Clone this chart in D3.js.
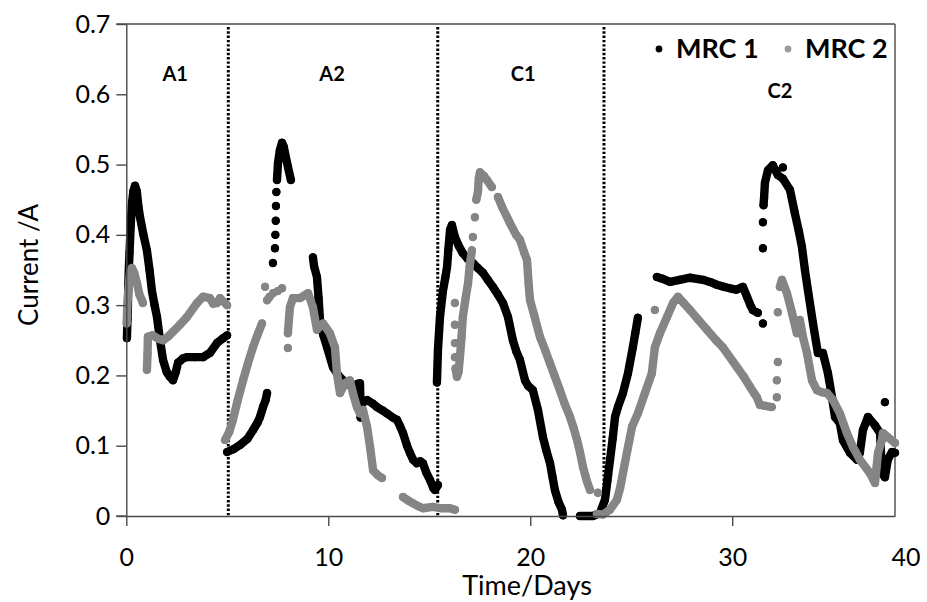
<!DOCTYPE html>
<html>
<head>
<meta charset="utf-8">
<script src="https://cdn.jsdelivr.net/npm/d3@7/dist/d3.min.js"></script>
<style>
  html, body { margin: 0; padding: 0; background: #fff; }
  svg { display: block; font-family: Lato, "Open Sans", sans-serif; }
</style>
</head>
<body>
<svg id="chart" width="927" height="602"></svg>
<script>
// ---------------- DATA ----------------
const seriesNames = ["MRC 1", "MRC 2"];
const xTicks = [0, 10, 20, 30, 40];
const yTicks = [0, 0.1, 0.2, 0.3, 0.4, 0.5, 0.6, 0.7];
const phaseBoundaries = [5.05, 15.42, 23.65];
const phaseLabels = ["A1", "A2", "C1", "C2"];
const phaseLabelDays = [2.42, 10.19, 19.65, 32.36];
const phaseLabelValues = [0.63, 0.63, 0.63, 0.606];

// MRC 1 (black): [day, current A]; null separates non-joined runs / single dots
const mrc1 = [
  [0.03,0.253],[0.06,0.28],[0.08,0.30],[0.10,0.33],[0.13,0.355],[0.16,0.375],[0.19,0.395],[0.23,0.42],[0.28,0.445],[0.35,0.462],[0.43,0.47],[0.52,0.462],[0.60,0.44],[0.68,0.425],[0.85,0.40],[1.02,0.378],[1.15,0.35],[1.27,0.32],[1.40,0.30],[1.52,0.283],[1.67,0.25],[1.82,0.222],[2.00,0.205],[2.16,0.198],[2.31,0.193],[2.45,0.205],[2.56,0.218],[2.80,0.224],[3.00,0.226],[3.40,0.226],[3.80,0.226],[4.14,0.232],[4.49,0.246],[4.79,0.253],[4.99,0.257], null,
  [4.99,0.091],[5.30,0.095],[5.63,0.101],[6.00,0.11],[6.27,0.122],[6.50,0.133],[6.62,0.141],[6.77,0.155],[6.90,0.165],[6.97,0.175], null,
  [7.26,0.36], null, [7.36,0.381], null, [7.38,0.40], null, [7.40,0.42], null, [7.41,0.441], null, [7.43,0.461], null,
  [7.46,0.478],[7.51,0.502],[7.60,0.52],[7.71,0.531],[7.80,0.525],[7.86,0.516],[8.00,0.497],[8.15,0.478], null,
  [9.24,0.368],[9.30,0.355],[9.44,0.34],[9.52,0.31],[9.59,0.279],[9.75,0.258],[9.94,0.24],[10.23,0.212],[10.50,0.20],[10.73,0.193],[11.00,0.187],[11.22,0.184],[11.45,0.188],[11.57,0.189],[11.59,0.165],[11.60,0.14],[11.65,0.16],[11.92,0.165],[12.20,0.16],[12.41,0.155],[12.70,0.15],[12.91,0.146],[13.20,0.14],[13.40,0.137],[13.55,0.128],[13.70,0.118],[13.90,0.10],[14.04,0.09],[14.20,0.08],[14.39,0.075],[14.55,0.078],[14.69,0.075],[14.85,0.062],[15.04,0.051],[15.20,0.04],[15.28,0.037],[15.43,0.044], null,
  [15.38,0.19],[15.43,0.236],[15.53,0.283],[15.68,0.321],[15.80,0.34],[15.88,0.354],[15.95,0.38],[16.03,0.407],[16.12,0.414],[16.27,0.397],[16.45,0.385],[16.66,0.374],[16.90,0.366],[17.16,0.36],[17.40,0.353],[17.66,0.346],[17.90,0.336],[18.15,0.326],[18.40,0.315],[18.65,0.303],[18.90,0.283],[19.14,0.25],[19.30,0.235],[19.49,0.222],[19.74,0.193],[19.90,0.185],[20.13,0.179],[20.38,0.151],[20.63,0.112],[20.80,0.093],[20.98,0.075],[21.10,0.056],[21.22,0.037],[21.40,0.02],[21.57,0.009],[21.62,0.001], null,
  [22.46,0.0],[22.80,0.0],[23.10,0.0],[23.45,0.004],[23.70,0.023],[23.82,0.05],[23.95,0.08],[24.08,0.11],[24.20,0.141],[24.34,0.155],[24.59,0.175],[24.84,0.203],[25.08,0.24],[25.20,0.26],[25.33,0.282], null,
  [26.27,0.34],[26.50,0.338],[26.92,0.333],[27.40,0.336],[27.91,0.339],[28.55,0.336],[28.90,0.333],[29.24,0.329],[29.60,0.326],[29.88,0.324],[30.20,0.322],[30.53,0.326],[30.73,0.312],[30.90,0.30],[31.02,0.293],[31.27,0.289], null,
  [31.52,0.274], null, [31.52,0.381], null, [31.52,0.418], null,
  [31.55,0.442],[31.58,0.454],[31.62,0.474],[31.77,0.492],[32.01,0.499],[32.26,0.485],[32.51,0.48],[32.86,0.464],[33.10,0.431],[33.30,0.405],[33.45,0.383],[33.60,0.35],[33.75,0.321],[34.00,0.274],[34.24,0.232],[34.49,0.232],[34.74,0.203],[34.94,0.169],[35.09,0.141],[35.33,0.132],[35.48,0.108],[35.83,0.09],[36.18,0.08],[36.32,0.09],[36.47,0.122],[36.72,0.141],[37.07,0.129],[37.32,0.118],[37.41,0.061],[37.56,0.055],[37.70,0.08],[37.91,0.091],[38.06,0.09], null,
  [32.51,0.496], null, [37.56,0.162]
];

// MRC 2 (grey)
const mrc2 = [
  [0.02,0.274],[0.04,0.293],[0.10,0.32],[0.18,0.345],[0.28,0.353],[0.40,0.345],[0.53,0.331],[0.65,0.315],[0.77,0.307],[0.82,0.303], null,
  [1.02,0.208],[1.05,0.23],[1.07,0.255],[1.30,0.257],[1.60,0.252],[1.82,0.25],[2.10,0.256],[2.31,0.262],[2.65,0.272],[3.00,0.283],[3.50,0.303],[3.80,0.312],[4.14,0.31],[4.30,0.302],[4.49,0.303],[4.64,0.31],[4.99,0.30], null,
  [4.89,0.108],[5.10,0.12],[5.28,0.137],[5.50,0.163],[5.78,0.193],[6.00,0.215],[6.27,0.24],[6.50,0.258],[6.72,0.274], null,
  [6.87,0.326], null, [6.97,0.307],[7.10,0.312], null, [7.26,0.317], null, [7.50,0.32], null, [7.71,0.324], null,
  [8.00,0.239], null, [8.00,0.26],[8.10,0.297],[8.25,0.31],[8.60,0.31],[9.00,0.317],[9.24,0.297],[9.44,0.265],[9.60,0.27],[9.74,0.274],[10.08,0.26],[10.33,0.24],[10.43,0.203],[10.58,0.175],[10.83,0.189],[11.07,0.193],[11.22,0.175],[11.42,0.155],[11.57,0.146],[11.72,0.151],[11.92,0.127],[12.07,0.098],[12.22,0.065],[12.45,0.058],[12.66,0.054], null,
  [13.70,0.027],[13.95,0.022],[14.20,0.018],[14.45,0.014],[14.69,0.011],[15.18,0.013],[15.60,0.011],[16.02,0.011],[16.27,0.009], null,
  [16.27,0.303], null, [16.27,0.272], null, [16.27,0.246], null, [16.27,0.226], null,
  [16.30,0.21],[16.37,0.198],[16.45,0.205],[16.52,0.226],[16.60,0.255],[16.66,0.283],[16.80,0.31],[16.92,0.331],[17.00,0.355],[17.11,0.378], null,
  [17.16,0.397], null, [17.26,0.425], null,
  [17.33,0.45],[17.41,0.461],[17.45,0.48],[17.51,0.489],[17.70,0.484],[17.86,0.478],[18.10,0.468], null,
  [18.40,0.454],[18.60,0.44],[18.99,0.417],[19.30,0.40],[19.49,0.393],[19.70,0.375],[19.84,0.364],[19.92,0.33],[19.99,0.307],[20.20,0.285],[20.48,0.255],[20.75,0.235],[20.98,0.217],[21.20,0.20],[21.47,0.179],[21.70,0.16],[21.97,0.141],[22.15,0.125],[22.32,0.108],[22.47,0.09],[22.61,0.07],[22.80,0.05],[22.96,0.037], null,
  [23.35,0.033], null,
  [23.30,0.003],[23.60,0.002],[23.95,0.009],[24.29,0.023],[24.45,0.04],[24.59,0.061],[24.84,0.098],[25.04,0.127],[25.33,0.146],[25.68,0.175],[26.02,0.203],[26.17,0.24],[26.42,0.26],[26.77,0.283],[27.07,0.303],[27.31,0.312],[27.60,0.303],[27.91,0.293],[28.30,0.28],[28.75,0.265],[29.20,0.25],[29.54,0.24],[30.23,0.212],[30.60,0.197],[30.88,0.184],[31.10,0.174],[31.22,0.169],[31.37,0.158],[31.60,0.157],[31.96,0.155], null,
  [26.17,0.293], null,
  [32.21,0.169], null, [32.21,0.193], null, [32.26,0.219], null, [32.26,0.29], null,
  [32.36,0.326],[32.46,0.336],[32.71,0.317],[32.96,0.289],[33.20,0.26],[33.35,0.279],[33.50,0.255],[33.70,0.232],[33.95,0.193],[34.19,0.179],[34.45,0.176],[34.69,0.175],[34.99,0.165],[35.33,0.146],[35.68,0.118],[35.98,0.098],[36.32,0.08],[36.82,0.061],[37.07,0.047],[37.15,0.07],[37.22,0.09],[37.41,0.108],[37.46,0.118],[37.71,0.112],[38.06,0.104]
];

const seriesColors = ["#000000", "#858585"];
const legendColors = ["#000000", "#9a9a9a"];

// ---------------- LAYOUT ----------------
const W = 927, H = 602;
const plot = { left: 126.3, right: 895, top: 24, bottom: 516 };
const axisColor = "#4a4a4a";

const svg = d3.select("#chart");

const x = d3.scaleLinear().domain([0, 38.06]).range([plot.left, plot.right]);
const y = d3.scaleLinear().domain([0, 0.7]).range([plot.bottom, plot.top]);

// frame: top and right
svg.append("line").attr("x1", plot.left - 10).attr("x2", plot.right).attr("y1", plot.top).attr("y2", plot.top)
  .attr("stroke", axisColor).attr("stroke-width", 1.4);
svg.append("line").attr("x1", plot.right).attr("x2", plot.right).attr("y1", plot.top).attr("y2", plot.bottom)
  .attr("stroke", axisColor).attr("stroke-width", 1.4);

// phase boundaries
svg.append("g").selectAll("line").data(phaseBoundaries).join("line")
  .attr("x1", d => x(d)).attr("x2", d => x(d))
  .attr("y1", plot.top + 3).attr("y2", plot.bottom)
  .attr("stroke", "#000").attr("stroke-width", 3).attr("stroke-dasharray", "2.4,1.9");

// phase labels
svg.append("g").selectAll("text").data(phaseLabels).join("text")
  .attr("x", (d, i) => x(phaseLabelDays[i]))
  .attr("y", (d, i) => y(phaseLabelValues[i]))
  .attr("text-anchor", "middle").attr("dominant-baseline", "central")
  .attr("font-weight", "bold").attr("font-size", 20)
  .text(d => d);

// series
const line = d3.line().defined(d => d !== null).x(d => x(d[0])).y(d => y(d[1]));
[mrc1, mrc2].forEach((data, i) => {
  const g = svg.append("g");
  g.append("path").attr("d", line(data)).attr("fill", "none")
    .attr("stroke", seriesColors[i]).attr("stroke-width", 8.4)
    .attr("stroke-linejoin", "round").attr("stroke-linecap", "round");
  g.selectAll("circle").data(data.filter(d => d !== null)).join("circle")
    .attr("cx", d => x(d[0])).attr("cy", d => y(d[1])).attr("r", 4)
    .attr("fill", seriesColors[i]);
});

// axes
const yAxis = d3.axisLeft(y).tickValues(yTicks).tickSize(10).tickSizeOuter(0).tickPadding(6)
  .tickFormat(d => String(d));
const gy = svg.append("g").attr("transform", `translate(${plot.left},0)`).call(yAxis);

const xAxis = d3.axisBottom(x).tickValues(xTicks.filter(t => t <= x.domain()[1])).tickSize(10).tickSizeOuter(0).tickPadding(22)
  .tickFormat(d => String(d));
const gx = svg.append("g").attr("transform", `translate(0,${plot.bottom})`).call(xAxis);

[gx, gy].forEach(g => {
  g.select(".domain").attr("stroke", axisColor).attr("stroke-width", 1.4);
  g.selectAll(".tick line").attr("stroke", axisColor).attr("stroke-width", 1.4);
  g.selectAll(".tick text").attr("font-size", 25).attr("fill", "#000")
    .attr("font-family", "Lato, 'Open Sans', sans-serif");
});
// extend bottom axis line left to meet the y tick at 0
svg.append("line").attr("x1", plot.left - 10).attr("x2", plot.left).attr("y1", plot.bottom).attr("y2", plot.bottom)
  .attr("stroke", axisColor).attr("stroke-width", 1.4);

// last x tick label (beyond axis range, kept inside the picture)
const lastTick = xTicks[xTicks.length - 1];
svg.append("text")
  .attr("x", Math.min(x(lastTick), W - 21))
  .attr("y", plot.bottom + 10 + 22).attr("dy", "0.71em")
  .attr("text-anchor", "middle").attr("font-size", 25)
  .text(String(lastTick));

// axis titles
svg.append("text").attr("x", 527).attr("y", 595).attr("text-anchor", "middle")
  .attr("font-size", 27).text("Time/Days");
svg.append("text").attr("transform", "translate(38,265) rotate(-90)").attr("text-anchor", "middle")
  .attr("font-size", 26).text("Current /A");

// legend
const legendX = [659, 788];
const legend = svg.append("g").selectAll("g").data(seriesNames).join("g")
  .attr("transform", (d, i) => `translate(${legendX[i]},49)`);
legend.append("circle").attr("r", 3.4).attr("fill", (d, i) => legendColors[i]);
legend.append("text").attr("x", 17).attr("y", 9).attr("font-size", 27).attr("font-weight", "bold").text(d => d);
</script>
</body>
</html>
